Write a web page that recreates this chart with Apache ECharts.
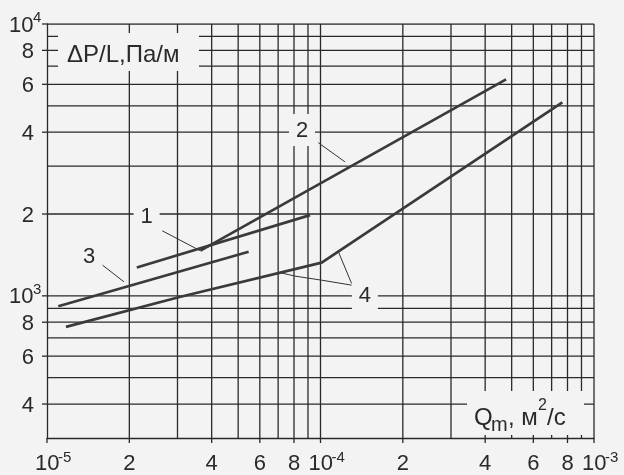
<!DOCTYPE html>
<html>
<head>
<meta charset="utf-8">
<script src="https://cdn.jsdelivr.net/npm/echarts@6/dist/echarts.min.js"></script>
<style>
  html, body { margin: 0; padding: 0; background: #f3f3f3; }
  #chart { width: 624px; height: 475px; }
</style>
</head>
<body>
<div id="chart"></div>
<script>
// Qm, м2/с  ->  ΔP/L, Па/м
const curve1 = [[2.13e-5, 1272], [9.16e-5, 1982]];
const curve2 = [[3.64e-5, 1467], [4.77e-4, 6258]];
const curve3 = [[1.10e-5, 916], [5.46e-5, 1452]];
const curve4 = [[1.173e-5, 769], [3.08e-5, 992], [1.01e-4, 1325], [7.66e-4, 5150]];

// номера кривых и выноски
const curveLabels = [[2.313e-5, 1965, '1'], [8.56e-5, 4073, '2'], [1.426e-5, 1400, '3'], [1.453e-4, 1006, '4']];
const leaders = [
  [[2.639e-5, 1735], [3.64e-5, 1464]],
  [[9.82e-5, 3657], [1.228e-4, 3113]],
  [[1.596e-5, 1297], [1.912e-5, 1126]],
  [[7.12e-5, 1217], [8.07e-5, 1182], [1.01e-4, 1142], [1.299e-4, 1095]],
  [[1.163e-4, 1452], [1.299e-4, 1111]]
];

// линии сетки
const xGrid = [2e-5, 3e-5, 4e-5, 5e-5, 6e-5, 7e-5, 8e-5, 9e-5, 1e-4,
               2e-4, 3e-4, 4e-4, 5e-4, 6e-4, 7e-4, 8e-4, 9e-4, 1e-3];
const yGrid = [400, 500, 600, 700, 800, 900, 1000,
               2000, 3000, 4000, 5000, 6000, 7000, 8000, 9000, 10000];

// подписи делений: значение, основание, степень
const xTicks = [[1e-5, '10', '-5'], [2e-5, '2'], [4e-5, '4'], [6e-5, '6'], [8e-5, '8'],
                [1e-4, '10', '-4'], [2e-4, '2'], [4e-4, '4'], [6e-4, '6'], [8e-4, '8'], [1e-3, '10', '-3']];
const yTicks = [[1e4, '10', '4'], [8000, '8'], [6000, '6'], [4000, '4'], [2000, '2'],
                [1000, '10', '3'], [800, '8'], [600, '6'], [400, '4']];

const X_MIN = 1e-5, X_MAX = 1e-3, Y_MIN = 300, Y_MAX = 10000;

const BG = '#f3f3f3';
const INK = '#2a2a2a';
const FONT = 'Liberation Sans, Arial, sans-serif';

const chart = echarts.init(document.getElementById('chart'));

const curveStyle = { color: '#3a3a3a', width: 2.7 };
const gridLine = data => ({
  type: 'line', data, z: 1, silent: true, showSymbol: false,
  lineStyle: { color: INK, width: 1.3 }
});

chart.setOption({
  backgroundColor: BG,
  animation: false,
  grid: { left: 47, right: 30, top: 24, bottom: 37 },
  xAxis: {
    type: 'log', logBase: 10, min: X_MIN, max: X_MAX,
    axisLine: { show: true, onZero: false, lineStyle: { color: INK, width: 1.3 } },
    axisTick: { show: false }, axisLabel: { show: false }, splitLine: { show: false }
  },
  yAxis: {
    type: 'log', logBase: 10, min: Y_MIN, max: Y_MAX,
    axisLine: { show: true, onZero: false, lineStyle: { color: INK, width: 1.3 } },
    axisTick: { show: false }, axisLabel: { show: false }, splitLine: { show: false }
  },
  series: [
    ...xGrid.map(v => gridLine([[v, Y_MIN], [v, Y_MAX]])),
    ...yGrid.map(v => gridLine([[X_MIN, v], [X_MAX, v]])),
    { type: 'line', data: curve1, z: 10, showSymbol: false, lineStyle: curveStyle },
    { type: 'line', data: curve2, z: 10, showSymbol: false, lineStyle: curveStyle },
    { type: 'line', data: curve3, z: 10, showSymbol: false, lineStyle: curveStyle },
    { type: 'line', data: curve4, z: 10, showSymbol: false, lineStyle: curveStyle },
    ...leaders.map(l => ({
      type: 'line', data: l, z: 9, showSymbol: false, silent: true,
      lineStyle: { color: '#333', width: 1 }
    }))
  ]
});

// подписи осей и делений
const toPx = (x, y) => chart.convertToPixel({ gridIndex: 0 }, [x, y]);
const g = [];
const stub = (x1, y1, x2, y2) => g.push({
  type: 'line', z: 6, shape: { x1, y1, x2, y2 }, style: { stroke: INK, lineWidth: 1.3 }
});
const txt = (x, y, text, size, align) => g.push({
  type: 'text', z: 6, x, y,
  style: { text, fontFamily: FONT, fontSize: size, fill: INK, align: align || 'left', verticalAlign: 'middle' }
});
const box = (x, y, width, height) => g.push({
  type: 'rect', z: 5, shape: { x, y, width, height }, style: { fill: BG }
});

xTicks.forEach(([v, base, pow]) => {
  const [px, py] = toPx(v, Y_MIN);
  stub(px, py, px, py + 5);
  if (pow) {
    txt(px - 12, py + 26, base, 22);
    txt(px + 11, py + 20, pow, 15);
  } else {
    txt(px, py + 26, base, 22, 'center');
  }
});

yTicks.forEach(([v, base, pow]) => {
  const [px, py] = toPx(X_MIN, v);
  stub(px - 5, py, px, py);
  if (pow) {
    txt(9, py + 1.5, base, 22);
    txt(33, py - 6, pow, 15);
  } else {
    txt(34, py + 1.5, base, 22, 'right');
  }
});

// номера кривых
curveLabels.forEach(([x, y, name]) => {
  const [px, py] = toPx(x, y);
  box(px - 13, py - 16, 26, 32);
  txt(px, py + 1, name, 22, 'center');
});

// ΔP/L
box(58, 33, 141, 38);
txt(67, 55, 'ΔP/L,Па/м', 24);

// Qm
box(467, 391, 117, 44);
txt(474, 418, 'Q', 24);
txt(491, 425, 'm', 20);
txt(508, 418, ', м', 24);
txt(538, 406, '2', 16);
txt(547, 418, '/с', 24);

chart.setOption({ graphic: g });
</script>
</body>
</html>
